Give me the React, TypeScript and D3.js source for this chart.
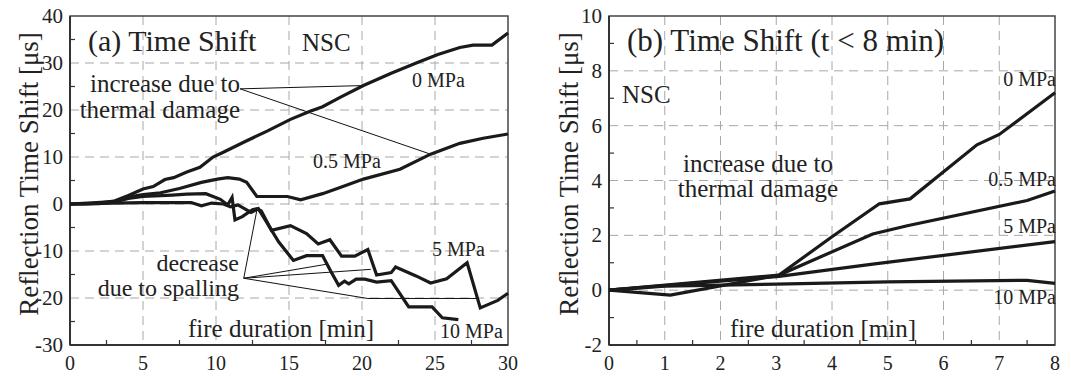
import React from 'react';
import * as d3 from 'd3';

type P = [number, number];

// ---------- Panel (a) data: fire duration [min] vs reflection time shift [µs]
const aXTicks = [0, 5, 10, 15, 20, 25, 30];
const aYTicks = [-30, -20, -10, 0, 10, 20, 30, 40];
const aXMinor = [2.5, 7.5, 12.5, 17.5, 22.5, 27.5];
const aYMinor = [35, 25, 15, 5, -5, -15, -25];

const a0MPa: P[] = [
  [0, 0], [1, 0], [2, 0.2], [3, 0.6], [4, 1.8], [5, 3.2], [5.7, 3.7], [6.5, 5.2], [7.1, 5.6],
  [8, 6.8], [8.9, 7.8], [9.8, 10], [10.5, 11], [12, 13.3], [13.5, 15.5], [15.1, 18], [16.4, 19.7],
  [17.3, 20.7], [18.5, 22.7], [20.1, 25.2], [22, 27.8], [23.8, 30.1], [25.2, 31.8], [26.7, 33.3],
  [27.6, 33.8], [28.9, 33.8], [30, 36.4],
];
const a05MPa: P[] = [
  [0, 0], [3, 0.5], [4, 1.5], [5, 2], [6.2, 2.4], [7.5, 3.3], [9, 4.6], [10.1, 5.3], [10.8, 5.6],
  [11.6, 5.3], [12.1, 4.6], [12.8, 1.6], [14.9, 1.6], [15.8, 0.9], [17.3, 2.2], [18.5, 3.5],
  [20.1, 5.3], [22.6, 7.4], [24.7, 10.6], [26.7, 12.9], [28.3, 14], [30, 14.9],
];
const a5MPa: P[] = [
  [0, 0], [2, 0.1], [3, 0.4], [4, 1.2], [5, 1.6], [7, 1.9], [8, 2.1], [9.3, 2.2], [10.3, 1.0],
  [10.8, -0.2], [11.1, 1.4], [11.3, -3.4], [11.8, -2.7], [12.5, -1.2], [12.8, -1.0], [13.1, -1.5],
  [13.8, -5.6], [15.1, -4.6], [16.2, -6.3], [17, -8.5], [17.8, -7.6], [18.6, -11.1], [19.5, -11.1],
  [20.4, -9.7], [21, -15.1], [22, -14.6], [22.3, -13.4], [23.7, -15.3], [24.7, -16.8], [25.8, -15.9],
  [27.2, -12.5], [28.1, -22.1], [29.3, -20.5], [30, -19],
];
const a10MPa: P[] = [
  [0, 0], [3, 0.2], [5, 0.3], [8.3, 0.3], [9, -0.4], [9.7, 0.2], [10.5, 0], [11, -0.6], [11.5, -0.2],
  [12.4, -1.8], [12.9, -1.0], [14.3, -8.1], [15.3, -12], [16.2, -11], [17.3, -11], [17.9, -14.5],
  [18.4, -17.3], [18.8, -16.4], [19.1, -17], [19.6, -16], [20.2, -16], [21, -16.6], [22, -16.3],
  [23.2, -21.9], [24.8, -21.9], [25.5, -24.2], [26.6, -24.6],
];
const aIncreaseAnchor: P = [11.65, 24.5];
const aIncreaseTargets: P[] = [[20.1, 25.2], [24.7, 10.6]];
const aSpallAnchor: P = [11.9, -15.8];
const aSpallTargets: P[] = [[12.8, -1.3], [17.6, -12.8], [20.6, -13.9]];
const aSpallBracket: P[] = [[11.9, -15.8], [20.4, -20.1], [28.0, -20.1]];

// ---------- Panel (b) data: t < 8 min
const bXTicks = [0, 1, 2, 3, 4, 5, 6, 7, 8];
const bYTicks = [-2, 0, 2, 4, 6, 8, 10];
const bXMinor = [0.5, 1.5, 2.5, 3.5, 4.5, 5.5, 6.5, 7.5];
const bYMinor = [-1, 1, 3, 5, 7, 9];

const b0MPa: P[] = [[0, 0], [1.1, -0.18], [3.05, 0.55], [4.0, 1.95], [4.85, 3.15], [5.4, 3.33], [6.6, 5.3], [7.0, 5.68], [8, 7.2]];
const b05MPa: P[] = [[0, 0], [3.05, 0.55], [4.73, 2.05], [5.35, 2.35], [7.5, 3.27], [8, 3.62]];
const b5MPa: P[] = [[0, 0], [3.05, 0.5], [4.73, 0.95], [8, 1.77]];
const b10MPa: P[] = [[0, 0], [1, 0.15], [3, 0.22], [5, 0.3], [7.5, 0.36], [8, 0.25]];

const FONT = 'Liberation Serif, DejaVu Serif, serif';
const W = 1071;
const H = 376;

interface PanelProps {
  x0: number; x1: number; y0: number; y1: number;
  xDomain: [number, number]; yDomain: [number, number];
  xTicks: number[]; yTicks: number[]; xMinor: number[]; yMinor: number[];
  series: P[][];
  children?: (x: d3.ScaleLinear<number, number>, y: d3.ScaleLinear<number, number>) => React.ReactNode;
}

function Panel(p: PanelProps) {
  const x = d3.scaleLinear().domain(p.xDomain).range([p.x0, p.x1]);
  const y = d3.scaleLinear().domain(p.yDomain).range([p.y1, p.y0]);
  const line = d3.line<P>().x(d => x(d[0])).y(d => y(d[1]));
  const gridColor = '#a8a8a8';
  return (
    <g>
      {p.xTicks.slice(1, -1).map(t => (
        <line key={'gx' + t} x1={x(t)} x2={x(t)} y1={p.y0} y2={p.y1} stroke={gridColor} strokeWidth={1} strokeDasharray="9,6" />
      ))}
      {p.yTicks.slice(1, -1).map(t => (
        <line key={'gy' + t} x1={p.x0} x2={p.x1} y1={y(t)} y2={y(t)} stroke={gridColor} strokeWidth={1} strokeDasharray="9,6" />
      ))}
      {p.xMinor.map(t => (
        <line key={'mx' + t} x1={x(t)} x2={x(t)} y1={p.y1} y2={p.y1 - 5} stroke="#333" strokeWidth={1.2} />
      ))}
      {p.yMinor.map(t => (
        <line key={'my' + t} x1={p.x0} x2={p.x0 + 5} y1={y(t)} y2={y(t)} stroke="#333" strokeWidth={1.2} />
      ))}
      <rect x={p.x0} y={p.y0} width={p.x1 - p.x0} height={p.y1 - p.y0} fill="none" stroke="#444" strokeWidth={1.5} />
      <line x1={p.x0} x2={p.x0} y1={p.y0} y2={p.y1} stroke="#333" strokeWidth={2} />
      <line x1={p.x0} x2={p.x1} y1={p.y1} y2={p.y1} stroke="#333" strokeWidth={2} />
      {p.yTicks.map(t => (
        <text key={'ly' + t} x={p.x0 - 7} y={y(t)} textAnchor="end" dominantBaseline="central" fontSize={21} fontFamily={FONT} fill="#222">{t}</text>
      ))}
      {p.xTicks.map(t => (
        <text key={'lx' + t} x={x(t)} y={370} textAnchor="middle" fontSize={20} fontFamily={FONT} fill="#222">{t}</text>
      ))}
      {p.children ? p.children(x, y) : null}
      {p.series.map((s, i) => (
        <path key={'s' + i} d={line(s) || ''} fill="none" stroke="#1a1a1a" strokeWidth={3.2} strokeLinejoin="miter" />
      ))}
    </g>
  );
}

export default function App() {
  const txt = { fontFamily: FONT, fill: '#222' } as const;
  return (
    <svg width={W} height={H} viewBox={`0 0 ${W} ${H}`} style={{ position: 'absolute', left: 0, top: 0, background: '#fff' }}>
      <rect x={0} y={0} width={W} height={H} fill="#fff" />
      <Panel
        x0={70} x1={508} y0={16} y1={345}
        xDomain={[0, 30]} yDomain={[-30, 40]}
        xTicks={aXTicks} yTicks={aYTicks} xMinor={aXMinor} yMinor={aYMinor}
        series={[a0MPa, a05MPa, a5MPa, a10MPa]}
      >
        {(x, y) => (
          <g>
            {aIncreaseTargets.map((t, i) => (
              <line key={'ai' + i} x1={x(aIncreaseAnchor[0])} y1={y(aIncreaseAnchor[1])} x2={x(t[0])} y2={y(t[1])} stroke="#111" strokeWidth={1} />
            ))}
            {aSpallTargets.map((t, i) => (
              <line key={'as' + i} x1={x(aSpallAnchor[0])} y1={y(aSpallAnchor[1])} x2={x(t[0])} y2={y(t[1])} stroke="#111" strokeWidth={1} />
            ))}
            <path d={d3.line<P>().x(d => x(d[0])).y(d => y(d[1]))(aSpallBracket) || ''} fill="none" stroke="#111" strokeWidth={1} />
          </g>
        )}
      </Panel>
      <Panel
        x0={609} x1={1055} y0={16} y1={345}
        xDomain={[0, 8]} yDomain={[-2, 10]}
        xTicks={bXTicks} yTicks={bYTicks} xMinor={bXMinor} yMinor={bYMinor}
        series={[b0MPa, b05MPa, b5MPa, b10MPa]}
      />

      {/* Panel (a) text */}
      <text x={88} y={51} fontSize={30} {...txt}>(a) Time Shift</text>
      <text x={302} y={51} fontSize={25} {...txt}>NSC</text>
      <text x={240} y={92} fontSize={25} textAnchor="end" {...txt}>increase due to</text>
      <text x={240} y={118} fontSize={25} textAnchor="end" {...txt}>thermal damage</text>
      <text x={412} y={87} fontSize={20} {...txt}>0 MPa</text>
      <text x={313} y={168} fontSize={20} {...txt}>0.5 MPa</text>
      <text x={432} y={256} fontSize={20} {...txt}>5 MPa</text>
      <text x={440} y={338} fontSize={20} {...txt}>10 MPa</text>
      <text x={239} y={271} fontSize={24} textAnchor="end" {...txt}>decrease</text>
      <text x={239} y={296} fontSize={24} textAnchor="end" {...txt}>due to spalling</text>
      <text x={188} y={337} fontSize={25} {...txt}>fire duration [min]</text>
      <text transform="translate(38,174) rotate(-90)" textAnchor="middle" fontSize={27} {...txt}>Reflection Time Shift [μs]</text>

      {/* Panel (b) text */}
      <text x={627} y={51} fontSize={31} {...txt}>(b) Time Shift (t &lt; 8 min)</text>
      <text x={622} y={103} fontSize={25} {...txt}>NSC</text>
      <text x={758} y={172} fontSize={25} textAnchor="middle" {...txt}>increase due to</text>
      <text x={758} y={197} fontSize={25} textAnchor="middle" {...txt}>thermal damage</text>
      <text x={1056} y={86} fontSize={20} textAnchor="end" {...txt}>0 MPa</text>
      <text x={1056} y={186} fontSize={20} textAnchor="end" {...txt}>0.5 MPa</text>
      <text x={1056} y={233} fontSize={20} textAnchor="end" {...txt}>5 MPa</text>
      <text x={1056} y={304} fontSize={20} textAnchor="end" {...txt}>10 MPa</text>
      <text x={730} y={337} fontSize={25} {...txt}>fire duration [min]</text>
      <text transform="translate(578,174) rotate(-90)" textAnchor="middle" fontSize={27} {...txt}>Reflection Time Shift [μs]</text>
    </svg>
  );
}
